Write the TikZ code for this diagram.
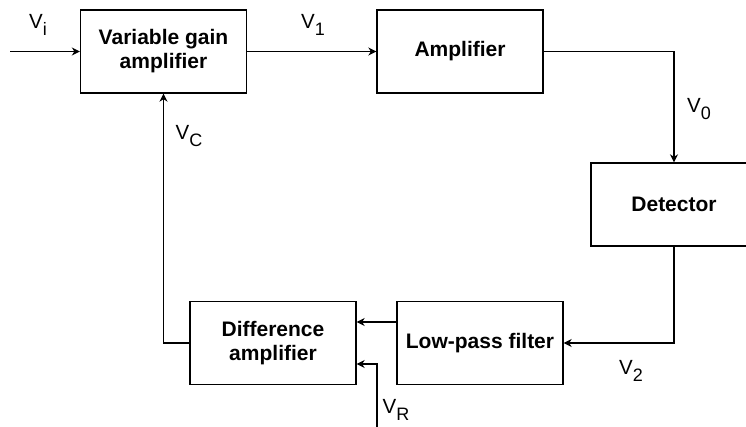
\documentclass[tikz,border=0pt]{standalone}
\usepackage{fontspec}
\setmainfont{Liberation Sans}
\usetikzlibrary{arrows.meta}
\newcommand{\vlab}[1]{{\fontsize{20.5}{20}\selectfont V\raisebox{-7pt}{\fontsize{18}{18}\selectfont #1}}}
\tikzset{
  blk/.style={draw, line width=1.3pt, minimum width=166pt, minimum height=83pt, inner sep=0pt,
    align=center, font=\bfseries\fontsize{21}{24}\selectfont},
  conn/.style={line width=1.3pt, -{Stealth[length=8pt,width=8pt,inset=2.5pt]}},
  lbl/.style={inner sep=0pt, anchor=center}
}
\begin{document}
\begin{tikzpicture}[x=1pt,y=-1pt]
\useasboundingbox (0,0) rectangle (746,426);
\clip (0,0) rectangle (746,426);
\node[blk] (vga) at (163.5,51.5) {Variable gain\\amplifier};
\node[blk] (amp) at (460,51.5) {Amplifier};
\node[blk] (det) at (674,204.5) {Detector};
\node[blk] (diff) at (273,343) {Difference\\amplifier};
\node[blk] (lpf) at (480,343) {Low-pass filter};
\coordinate (in) at (10,51.5);
\coordinate (vr) at (377,430);
\draw[conn] (in) -- (vga.west);
\draw[conn] (vga.east) -- (amp.west);
\draw[conn] (amp.east) -| (det.north);
\draw[conn] (det.south) |- (lpf.east);
\draw[conn] ([yshift=21pt]lpf.west) -- ([yshift=21pt]diff.east);
\draw[conn] (vr) |- ([yshift=-21pt]diff.east);
\draw[conn] (diff.west) -| (vga.south);
\node[lbl] (li) at (38,25) {\vlab{i}};
\node[lbl] (l1) at (313,25) {\vlab{1}};
\node[lbl] (l0) at (699,109) {\vlab{0}};
\node[lbl] (lc) at (189,136) {\vlab{C}};
\node[lbl] (l2) at (631,371) {\vlab{2}};
\node[lbl] (lr) at (396,410) {\vlab{R}};
\end{tikzpicture}
\end{document}
